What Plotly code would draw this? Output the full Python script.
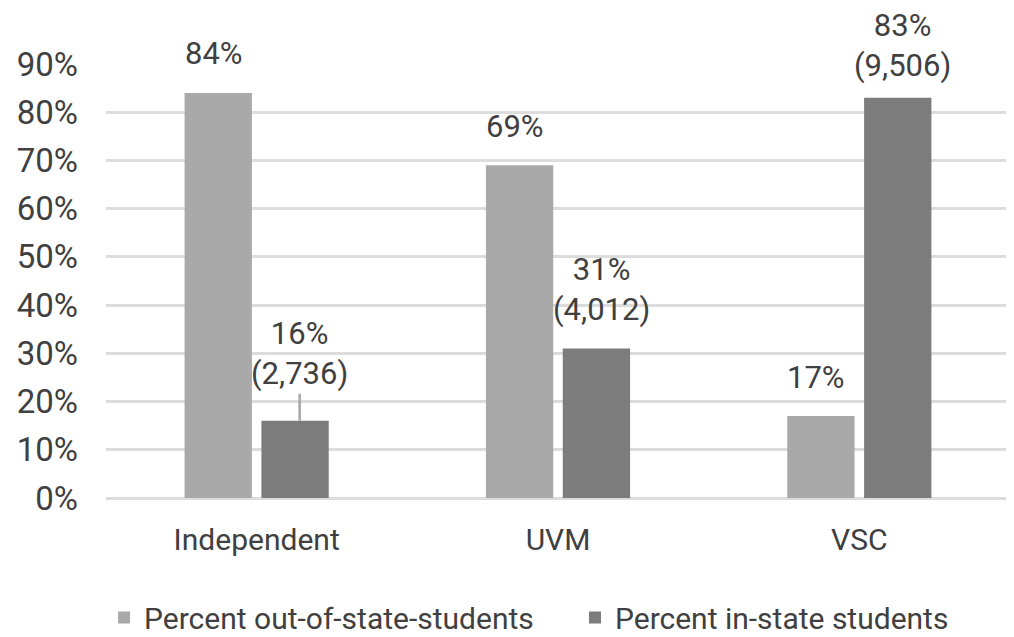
import plotly.graph_objects as go

categories = ["Independent", "UVM", "VSC"]
out_state = [84, 69, 17]
in_state = [16, 31, 83]
in_state_counts = ["2,736", "4,012", "9,506"]
y_ticks = [0, 10, 20, 30, 40, 50, 60, 70, 80, 90]

FONT = "Roboto, Liberation Sans, sans-serif"
TXT = "#404040"
LIGHT = "#a9a9a9"
DARK = "#7b7c7b"
FS_ANN = 31
in_label_shift = [0, 59, 52]

fig = go.Figure()
fig.add_trace(go.Bar(name="Percent out-of-state-students", x=categories, y=out_state,
                     marker=dict(color=LIGHT, line=dict(width=0)), legend="legend"))
fig.add_trace(go.Bar(name="Percent in-state students", x=categories, y=in_state,
                     marker=dict(color=DARK, line=dict(width=0)), legend="legend2"))

ann = []
for i, c in enumerate(categories):
    ann.append(dict(x=c, y=out_state[i], xref="x", yref="y", text=f"{out_state[i]}%",
                    showarrow=False, xshift=-43, yshift=39, yanchor="middle",
                    font=dict(size=FS_ANN, color=TXT, family=FONT)))
    label = f"{in_state[i]}%<br>({in_state_counts[i]})"
    if i == 0:
        ann.append(dict(x=c, y=in_state[i], xref="x", yref="y", text=label,
                        showarrow=True, arrowhead=0, arrowwidth=2.5, arrowcolor="#a6a6a6",
                        ax=0, ay=-67, xshift=43, standoff=0,
                        font=dict(size=FS_ANN, color=TXT, family=FONT)))
    else:
        ann.append(dict(x=c, y=in_state[i], xref="x", yref="y", text=label,
                        showarrow=False, xshift=43, yshift=in_label_shift[i], yanchor="middle",
                        font=dict(size=FS_ANN, color=TXT, family=FONT)))

leg_common = dict(orientation="h", xref="container", yref="container",
                  xanchor="left", y=0.031, yanchor="middle",
                  font=dict(size=30, color=TXT), bgcolor="rgba(0,0,0,0)")

fig.update_layout(
    width=1006, height=629,
    margin=dict(l=98, r=4, t=56, b=139, autoexpand=False),
    paper_bgcolor="white", plot_bgcolor="white",
    barmode="group", bargap=0.49, bargroupgap=0.124,
    font=dict(family=FONT, size=30, color=TXT),
    showlegend=True,
    legend=dict(x=0.0955, **leg_common),
    legend2=dict(x=0.5636, **leg_common),
    annotations=ann,
    xaxis=dict(showgrid=False, showline=False, ticks="", ticklabelstandoff=21,
               automargin=False, tickfont=dict(size=30, color=TXT)),
    yaxis=dict(range=[0, 90], tickvals=y_ticks, ticktext=[f"{v}%" for v in y_ticks],
               showgrid=True, gridcolor="#dcdcdc", gridwidth=3,
               zeroline=True, zerolinecolor="#dcdcdc", zerolinewidth=3,
               showline=False, ticks="", ticklabelstandoff=27, automargin=False,
               tickfont=dict(size=33, color=TXT)),
)

fig.write_html("out.html")
